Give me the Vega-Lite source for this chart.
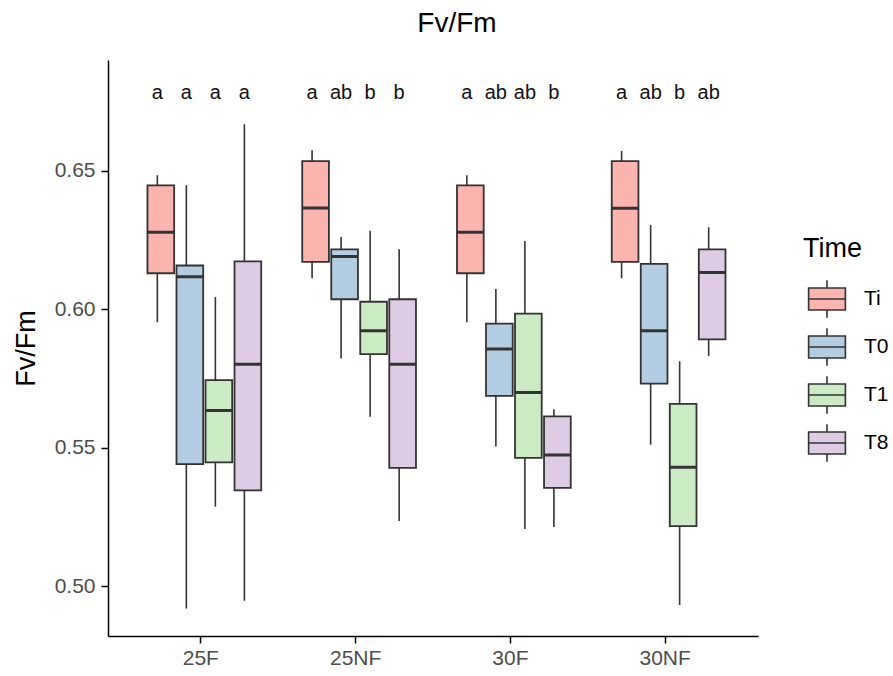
{
  "$schema": "https://vega.github.io/schema/vega-lite/v6.json",
  "width": 650,
  "height": 576,
  "autosize": {"type": "none"},
  "padding": {"left": 108, "top": 60, "right": 135, "bottom": 40},
  "background": "white",
  "title": {"text": "Fv/Fm", "fontSize": 28, "fontWeight": "normal", "color": "black", "anchor": "middle", "frame": "group", "dx": 24, "offset": 0, "baseline": "alphabetic"},
  "data": {"values": [
    {"Site": "25F", "Time": "Ti", "lower": 0.5953, "q1": 0.6130, "median": 0.6278, "q3": 0.6447, "upper": 0.6484, "letter": "a"},
    {"Site": "25F", "Time": "T0", "lower": 0.4919, "q1": 0.5441, "median": 0.6117, "q3": 0.6158, "upper": 0.6448, "letter": "a"},
    {"Site": "25F", "Time": "T1", "lower": 0.5287, "q1": 0.5447, "median": 0.5634, "q3": 0.5744, "upper": 0.6044, "letter": "a"},
    {"Site": "25F", "Time": "T8", "lower": 0.4947, "q1": 0.5346, "median": 0.5801, "q3": 0.6173, "upper": 0.6668, "letter": "a"},
    {"Site": "25NF", "Time": "Ti", "lower": 0.6112, "q1": 0.6171, "median": 0.6366, "q3": 0.6535, "upper": 0.6574, "letter": "a"},
    {"Site": "25NF", "Time": "T0", "lower": 0.5823, "q1": 0.6036, "median": 0.6190, "q3": 0.6216, "upper": 0.6261, "letter": "ab"},
    {"Site": "25NF", "Time": "T1", "lower": 0.5612, "q1": 0.5838, "median": 0.5922, "q3": 0.6027, "upper": 0.6283, "letter": "b"},
    {"Site": "25NF", "Time": "T8", "lower": 0.5235, "q1": 0.5427, "median": 0.5801, "q3": 0.6036, "upper": 0.6217, "letter": "b"},
    {"Site": "30F", "Time": "Ti", "lower": 0.5953, "q1": 0.6130, "median": 0.6278, "q3": 0.6447, "upper": 0.6484, "letter": "a"},
    {"Site": "30F", "Time": "T0", "lower": 0.5504, "q1": 0.5687, "median": 0.5856, "q3": 0.5948, "upper": 0.6073, "letter": "ab"},
    {"Site": "30F", "Time": "T1", "lower": 0.5206, "q1": 0.5463, "median": 0.5699, "q3": 0.5984, "upper": 0.6246, "letter": "ab"},
    {"Site": "30F", "Time": "T8", "lower": 0.5214, "q1": 0.5355, "median": 0.5474, "q3": 0.5613, "upper": 0.5639, "letter": "b"},
    {"Site": "30NF", "Time": "Ti", "lower": 0.6112, "q1": 0.6171, "median": 0.6365, "q3": 0.6535, "upper": 0.6572, "letter": "a"},
    {"Site": "30NF", "Time": "T0", "lower": 0.5511, "q1": 0.5731, "median": 0.5922, "q3": 0.6164, "upper": 0.6304, "letter": "ab"},
    {"Site": "30NF", "Time": "T1", "lower": 0.4932, "q1": 0.5217, "median": 0.5429, "q3": 0.5658, "upper": 0.5812, "letter": "b"},
    {"Site": "30NF", "Time": "T8", "lower": 0.5831, "q1": 0.5891, "median": 0.6133, "q3": 0.6216, "upper": 0.6296, "letter": "ab"}
  ]},
  "encoding": {
    "x": {"field": "Site", "type": "nominal", "sort": ["25F", "25NF", "30F", "30NF"],
      "scale": {"paddingInner": 0.25, "paddingOuter": 0.225},
      "axis": {"title": null, "labelAngle": 0, "labelPadding": 4}},
    "xOffset": {"field": "Time", "type": "nominal", "sort": ["Ti", "T0", "T1", "T8"],
      "scale": {"paddingInner": 0, "paddingOuter": 0}}
  },
  "layer": [
    {"mark": {"type": "rule", "color": "#333333", "strokeWidth": 1.6},
     "encoding": {
       "y": {"field": "lower", "type": "quantitative",
         "scale": {"domain": [0.482, 0.69], "nice": false, "zero": false},
         "axis": {"title": "Fv/Fm", "values": [0.50, 0.55, 0.60, 0.65], "format": ".2f", "titlePadding": 14}},
       "y2": {"field": "upper"}}},
    {"mark": {"type": "bar", "stroke": "#333333", "strokeWidth": 1.8, "width": {"band": 0.92}},
     "encoding": {
       "y": {"field": "q1", "type": "quantitative"},
       "y2": {"field": "q3"},
       "fill": {"field": "Time", "type": "nominal", "sort": ["Ti", "T0", "T1", "T8"],
         "scale": {"domain": ["Ti", "T0", "T1", "T8"], "range": ["#FBB4AE", "#B3CDE3", "#CCEBC5", "#DECBE4"]},
         "legend": {"title": "Time", "orient": "none", "legendX": 695, "legendY": 176,
           "symbolType": "M-0.8,-0.48H0.8V0.48H-0.8Z M-0.8,0H0.8 M0,-0.48V-0.82 M0,0.48V0.82",
           "symbolSize": 2116, "symbolStrokeColor": "#333333", "symbolStrokeWidth": 1.6, "symbolOpacity": 1,
           "labelFontSize": 21, "labelColor": "black", "labelOffset": 13,
           "titleFontSize": 27, "titleFontWeight": "normal", "titleColor": "black", "titlePadding": 12,
           "rowPadding": 1, "padding": 0}}}},
    {"mark": {"type": "bar", "fill": "transparent", "stroke": "#333333", "strokeWidth": 3, "width": {"band": 0.92}},
     "encoding": {"y": {"field": "median", "type": "quantitative"}, "y2": {"field": "median"}}},
    {"mark": {"type": "text", "fontSize": 20, "color": "#111111", "baseline": "middle"},
     "encoding": {"y": {"datum": 0.678}, "text": {"field": "letter"}}}
  ],
  "config": {
    "font": "Liberation Sans",
    "view": {"stroke": null},
    "axis": {"grid": false, "domainColor": "black", "domainWidth": 1.5, "tickColor": "black", "tickWidth": 1.5, "tickSize": 7,
      "labelColor": "#4D4D4D", "labelFontSize": 21, "labelPadding": 6, "titleFontSize": 27, "titleFontWeight": "normal", "titleColor": "black"}
  }
}
